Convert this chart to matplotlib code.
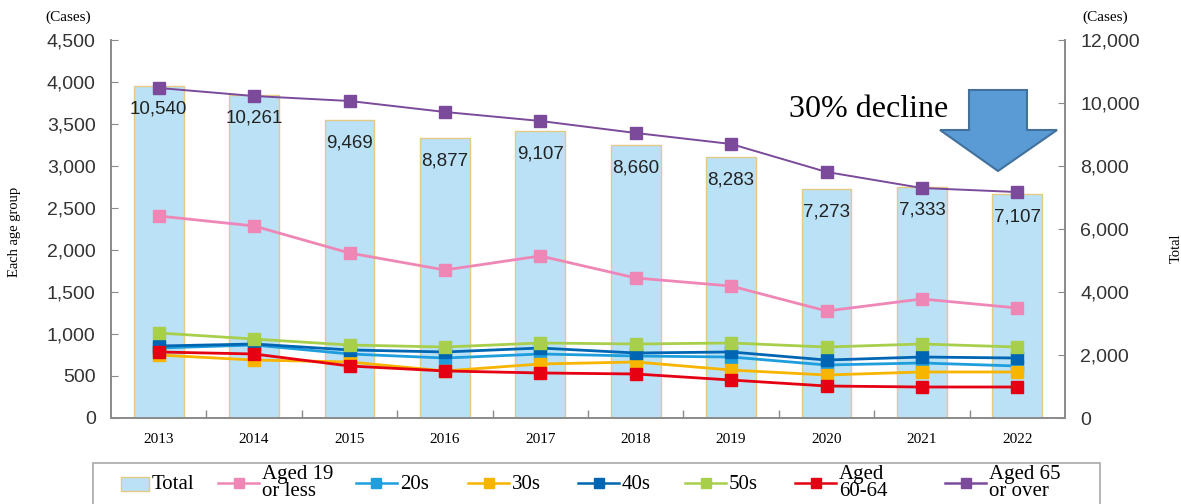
import numpy as np
import matplotlib
matplotlib.use("Agg")
import matplotlib.pyplot as plt
from matplotlib.patches import Rectangle, Polygon
from matplotlib.lines import Line2D

# ---- data -------------------------------------------------------------
years = ["2013", "2014", "2015", "2016", "2017", "2018", "2019", "2020", "2021", "2022"]
total = [10540, 10261, 9469, 8877, 9107, 8660, 8283, 7273, 7333, 7107]
aged_19_or_less = [2405, 2286, 1964, 1762, 1929, 1667, 1571, 1274, 1417, 1310]
aged_20s = [833, 869, 762, 714, 762, 738, 726, 631, 655, 619]
aged_30s = [750, 690, 667, 560, 643, 667, 571, 512, 548, 548]
aged_40s = [857, 881, 810, 786, 833, 774, 786, 690, 726, 714]
aged_50s = [1012, 940, 869, 845, 893, 881, 893, 845, 881, 845]
aged_60_64 = [786, 762, 619, 560, 536, 524, 452, 381, 369, 369]
aged_65_over = [3929, 3833, 3774, 3643, 3536, 3393, 3262, 2929, 2738, 2690]

left_ticks = [0, 500, 1000, 1500, 2000, 2500, 3000, 3500, 4000, 4500]
right_ticks = [0, 2000, 4000, 6000, 8000, 10000, 12000]

series = [
    ("Aged 19\nor less", aged_19_or_less, "#EE87B5"),
    ("20s", aged_20s, "#1E9EDD"),
    ("30s", aged_30s, "#F7B500"),
    ("40s", aged_40s, "#0066B3"),
    ("50s", aged_50s, "#A8CF4C"),
    ("Aged\n60-64", aged_60_64, "#E50012"),
    ("Aged 65\nor over", aged_65_over, "#7B4A9B"),
]

BAR_FACE = "#BAE1F5"
BAR_EDGE = "#E3CB85"
SPINE = "#8A8A8A"
SANS = "Liberation Sans"
SERIF = "Liberation Serif"

W, H = 1181, 504
fig = plt.figure(figsize=(W / 100, H / 100), dpi=100)


def fp(x, y):
    """pixel position -> figure fraction"""
    return x / W, 1 - y / H


ax = fig.add_axes([111 / W, 1 - 418 / H, (1065 - 111) / W, (418 - 40) / H])
ax2 = ax.twinx()
ax.set_zorder(ax2.get_zorder() + 1)
ax.patch.set_visible(False)

x = np.arange(len(years))

# totals as bars on the right-hand scale
ax2.bar(x, total, width=0.52, color=BAR_FACE, edgecolor=BAR_EDGE, linewidth=1.0)
for xi, v in zip(x, total):
    ax2.annotate(f"{v:,}", (xi, v), xytext=(0, -16.5), textcoords="offset points",
                 ha="center", va="center", fontsize=13.5, family=SANS, color="#222222")

# age groups as lines on the left-hand scale
for label, vals, col in series:
    lw = 1.4 if label.startswith("Aged 65") else 2.0
    ax.plot(x, vals, color=col, lw=lw, marker="s", ms=8, mec=col, mfc=col)

ax.set_xlim(-0.5, len(years) - 0.5)
ax.set_ylim(0, 4500)
ax2.set_ylim(0, 12000)
ax.set_yticks(left_ticks)
ax.set_yticklabels([f"{t:,}" for t in left_ticks])
ax2.set_yticks(right_ticks)
ax2.set_yticklabels([f"{t:,}" for t in right_ticks])

ax.set_xticks(x)
ax.set_xticklabels(years, family=SERIF, fontsize=11)
ax.set_xticks(np.arange(0.5, len(years) - 1, 1), minor=True)
ax.tick_params(axis="x", which="major", length=0, pad=11)
ax.tick_params(axis="x", which="minor", direction="in", length=6, color=SPINE, width=1)
ax.tick_params(axis="y", direction="in", length=5, color=SPINE, pad=11,
               labelsize=14, labelcolor="#333333")
ax2.tick_params(axis="y", direction="in", length=5, color=SPINE, pad=11,
                labelsize=14, labelcolor="#333333")
for a in (ax, ax2):
    for lab in a.get_yticklabels():
        lab.set_family(SANS)
    a.spines["top"].set_visible(False)
    for s in ("left", "right", "bottom"):
        a.spines[s].set_color(SPINE)
        a.spines[s].set_linewidth(1.2)

# axis titles and units
fig.text(*fp(15, 232), "Each age group", rotation=90, ha="center", va="center",
         family=SERIF, fontsize=10.5)
fig.text(*fp(1176, 248), "Total", rotation=90, ha="center", va="center",
         family=SERIF, fontsize=10.5)
fig.text(*fp(68, 17), "(Cases)", ha="center", va="center", family=SERIF, fontsize=11)
fig.text(*fp(1105, 17), "(Cases)", ha="center", va="center", family=SERIF, fontsize=11)

# decline callout
fig.text(*fp(789, 117), "30% decline", ha="left", va="baseline", family=SERIF, fontsize=23)
arrow_px = [(969, 90), (1027, 90), (1027, 130), (1057, 130), (998, 171), (940, 130), (969, 130)]
fig.patches.append(Polygon([fp(px, py) for px, py in arrow_px], closed=True,
                           transform=fig.transFigure, facecolor="#5B9BD5",
                           edgecolor="#41719C", lw=1.5, zorder=5))

# legend strip along the bottom edge
fig.patches.append(Rectangle(fp(93, 520), (1100 - 93) / W, (520 - 463) / H,
                             transform=fig.transFigure, facecolor="white",
                             edgecolor="#A8A8A8", lw=1.2, clip_on=False))
fig.patches.append(Rectangle(fp(121, 491), 28 / W, 14 / H, transform=fig.transFigure,
                             facecolor=BAR_FACE, edgecolor=BAR_EDGE, lw=1.0))
fig.text(*fp(152, 489), "Total", ha="left", va="baseline", family=SERIF, fontsize=15)

legend_x = [218, 356, 468, 578, 685, 795, 945]
for (label, vals, col), lx in zip(series, legend_x):
    lx0, ly = fp(lx, 483)
    lx1, _ = fp(lx + 41, 483)
    fig.lines.append(Line2D([lx0, lx1], [ly, ly], transform=fig.transFigure, color=col,
                            lw=1.8))
    fig.lines.append(Line2D([(lx0 + lx1) / 2], [ly], transform=fig.transFigure, color=col,
                            marker="s", ms=7, mec=col, mfc=col))
    if "\n" in label:
        tx, ty = fp(lx + 44, 483)
        fig.text(tx, ty, label, ha="left", va="center", family=SERIF, fontsize=15,
                 linespacing=0.92)
    else:
        tx, ty = fp(lx + 44, 489)
        fig.text(tx, ty, label, ha="left", va="baseline", family=SERIF, fontsize=15)

fig.savefig("out.png", dpi=100, facecolor="white")
